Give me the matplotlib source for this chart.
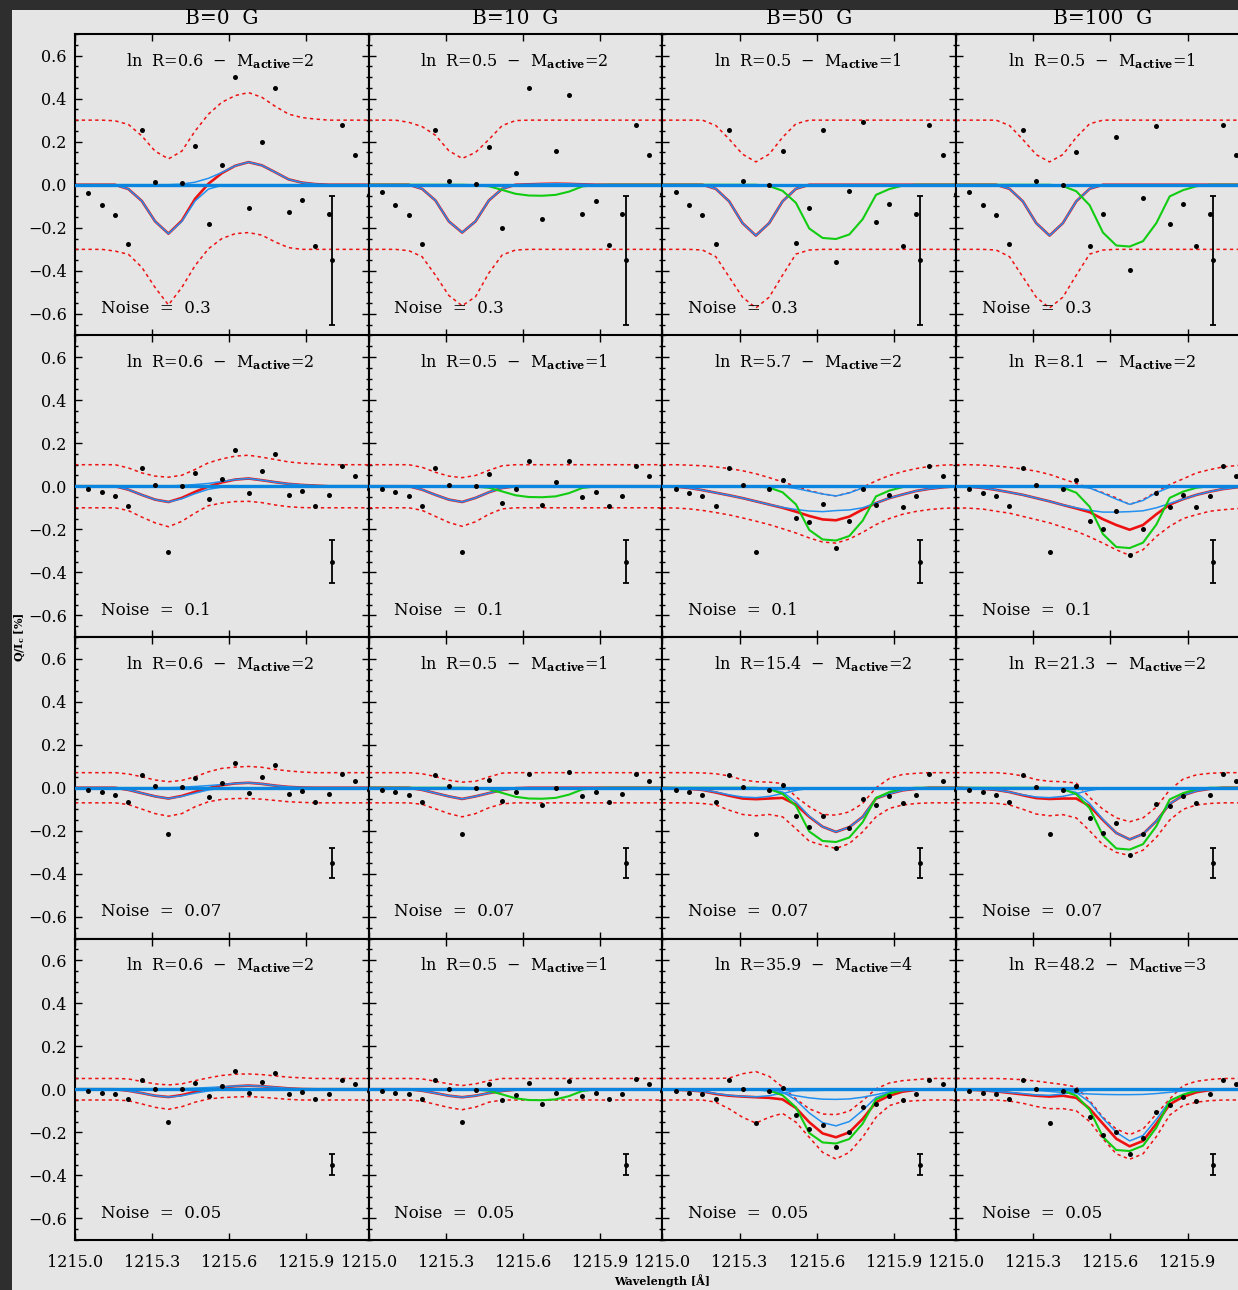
import numpy as np
import matplotlib
matplotlib.use("Agg")
import matplotlib.pyplot as plt
from matplotlib.patches import Rectangle
from matplotlib.ticker import FixedLocator, MultipleLocator, FuncFormatter

plt.rcParams['font.family'] = ['DejaVu Serif']
plt.rcParams['mathtext.fontset'] = 'dejavuserif'

nan = np.nan

# wavelength grid (23 samples), dots are drawn for samples 1..22
wave = np.linspace(1215.0, 1216.142, 23)

fields = ["B=0  G", "B=10  G", "B=50  G", "B=100  G"]
noise = [0.3, 0.1, 0.07, 0.05]
noise_txt = ["0.3", "0.1", "0.07", "0.05"]
ln_r = [["0.6", "0.5", "0.5", "0.5"],
        ["0.6", "0.5", "5.7", "8.1"],
        ["0.6", "0.5", "15.4", "21.3"],
        ["0.6", "0.5", "35.9", "48.2"]]
m_active = [[2, 2, 1, 1], [2, 1, 2, 2], [2, 1, 2, 2], [2, 1, 4, 3]]

# true signal per field
green_b0 = [0.0] * 23
green_b10 = [0, 0, 0, 0, 0, 0, 0, 0, -0.002, -0.007, -0.024, -0.042, -0.05, -0.051, -0.047, -0.032, -0.008, -0.001, 0, 0, 0, 0, 0]
green_b50 = [0, 0, 0, 0, 0, 0, 0, 0, -0.006, -0.028, -0.084, -0.203, -0.247, -0.252, -0.231, -0.16, -0.047, -0.02, -0.004, 0, 0, 0, 0]
green_b100 = [0, 0, 0, 0, 0, 0, 0, 0, -0.006, -0.03, -0.095, -0.222, -0.282, -0.287, -0.262, -0.178, -0.054, -0.025, -0.007, 0, 0, 0, 0]
green = [green_b0, green_b10, green_b50, green_b100]

# ---- row 1, noise 0.3
dots_r1 = [
    [-0.036, -0.094, -0.14, -0.277, 0.253, 0.0125, nan, 0.006, 0.18, -0.184, 0.094, 0.50, -0.109, 0.20, 0.45, -0.128, -0.07, -0.283, -0.134, 0.277, 0.1375, -0.048],
    [-0.034, -0.092, -0.139, -0.273, 0.255, 0.016, nan, 0.003, 0.177, -0.203, 0.053, 0.45, -0.161, 0.155, 0.419, -0.136, -0.075, -0.281, -0.134, 0.278, 0.1375, -0.045],
    [-0.034, -0.092, -0.139, -0.273, 0.255, 0.016, nan, -0.003, 0.155, -0.27, -0.108, 0.253, -0.361, -0.031, 0.292, -0.173, -0.089, -0.286, -0.136, 0.278, 0.1375, -0.045],
    [-0.034, -0.092, -0.139, -0.273, 0.255, 0.016, nan, -0.003, 0.15, -0.283, -0.134, 0.22, -0.394, -0.061, 0.272, -0.18, -0.09, -0.286, -0.134, 0.278, 0.1375, -0.045]]
upper_r1 = [
    [0.30, 0.30, 0.30, 0.297, 0.28, 0.227, 0.156, 0.12, 0.156, 0.25, 0.328, 0.383, 0.414, 0.428, 0.406, 0.364, 0.328, 0.312, 0.305, 0.30, 0.30, 0.30, 0.30],
    [0.30, 0.30, 0.30, 0.29, 0.27, 0.23, 0.158, 0.122, 0.15, 0.21, 0.275, 0.298] + [0.30] * 11,
    [0.30, 0.30, 0.30, 0.30, 0.275, 0.212, 0.142, 0.106, 0.142, 0.22, 0.283, 0.30] + [0.30] * 11,
    [0.30, 0.30, 0.30, 0.30, 0.275, 0.21, 0.14, 0.106, 0.14, 0.22, 0.283, 0.30] + [0.30] * 11]
lower_r1 = [
    [-0.30, -0.30, -0.30, -0.308, -0.323, -0.383, -0.477, -0.558, -0.477, -0.375, -0.297, -0.25, -0.227, -0.222, -0.234, -0.266, -0.292, -0.30, -0.30, -0.30, -0.30, -0.30, -0.30],
    [-0.30, -0.30, -0.30, -0.306, -0.334, -0.42, -0.514, -0.562, -0.52, -0.41, -0.326, -0.303] + [-0.30] * 11,
    [-0.30, -0.30, -0.30, -0.303, -0.334, -0.428, -0.522, -0.572, -0.522, -0.42, -0.322, -0.303] + [-0.30] * 11,
    [-0.30, -0.30, -0.30, -0.303, -0.334, -0.428, -0.522, -0.572, -0.522, -0.42, -0.322, -0.303] + [-0.30] * 11]
fit_r1 = [
    [0, 0, 0, 0, -0.02, -0.075, -0.17, -0.227, -0.167, -0.065, 0.005, 0.054, 0.088, 0.105, 0.09, 0.058, 0.025, 0.01, 0.003, 0, 0, 0, 0],
    [0, 0, 0, 0, -0.019, -0.073, -0.17, -0.222, -0.17, -0.073, -0.019, 0, 0.002, 0.004, 0.005, 0.004, 0.002, 0, 0, 0, 0, 0, 0],
    [0, 0, 0, 0, -0.019, -0.077, -0.178, -0.236, -0.178, -0.077, -0.019] + [0] * 12,
    [0, 0, 0, 0, -0.019, -0.077, -0.178, -0.236, -0.178, -0.077, -0.019] + [0] * 12]
comps_r1 = [
    [[0, 0, 0, 0, -0.02, -0.075, -0.17, -0.227, -0.17, -0.075, -0.02, -0.003] + [0] * 11,
     [0, 0, 0, 0, 0, 0, 0, 0, 0.003, 0.012, 0.03, 0.057, 0.088, 0.105, 0.09, 0.058, 0.025, 0.01, 0.003, 0, 0, 0, 0]],
    [[0, 0, 0, 0, -0.019, -0.073, -0.17, -0.222, -0.17, -0.073, -0.019] + [0] * 12,
     [0] * 12 + [0.002, 0.004, 0.005, 0.004, 0.002] + [0] * 6],
    None, None]

# ---- row 2, noise 0.1
dots_r2 = [
    [-0.011, -0.029, -0.045, -0.09, 0.085, 0.008, -0.305, 0.002, 0.062, -0.059, 0.034, 0.169, -0.033, 0.07, 0.152, -0.04, -0.02, -0.091, -0.042, 0.093, 0.047, -0.014],
    [-0.011, -0.029, -0.045, -0.09, 0.085, 0.008, -0.305, 0.002, 0.056, -0.078, -0.011, 0.115, -0.087, 0.02, 0.116, -0.051, -0.026, -0.093, -0.043, 0.093, 0.047, -0.014],
    [-0.012, -0.031, -0.045, -0.09, 0.085, 0.008, -0.307, -0.011, 0.031, -0.147, -0.167, -0.081, -0.287, -0.163, -0.011, -0.088, -0.04, -0.096, -0.045, 0.093, 0.047, -0.012],
    [-0.012, -0.031, -0.045, -0.09, 0.085, 0.008, -0.307, -0.011, 0.031, -0.16, -0.197, -0.113, -0.321, -0.197, -0.03, -0.095, -0.042, -0.096, -0.045, 0.093, 0.047, -0.012]]
upper_r2 = [
    [0.1, 0.1, 0.1, 0.1, 0.085, 0.062, 0.047, 0.042, 0.051, 0.078, 0.109, 0.127, 0.14, 0.144, 0.135, 0.124, 0.113, 0.107, 0.104, 0.1, 0.1, 0.1, 0.1],
    [0.1, 0.1, 0.1, 0.1, 0.088, 0.065, 0.047, 0.04, 0.05, 0.074, 0.095] + [0.1] * 12,
    [0.1, 0.1, 0.098, 0.095, 0.09, 0.082, 0.072, 0.058, 0.04, 0.02, 0.0, -0.02, -0.035, -0.045, -0.03, -0.005, 0.025, 0.05, 0.068, 0.082, 0.092, 0.098, 0.1],
    [0.1, 0.1, 0.098, 0.094, 0.088, 0.08, 0.07, 0.055, 0.034, 0.013, -0.008, -0.03, -0.054, -0.085, -0.062, -0.026, 0.008, 0.034, 0.062, 0.077, 0.09, 0.096, 0.1]]
lower_r2 = [
    [-0.1, -0.1, -0.1, -0.1, -0.113, -0.143, -0.17, -0.188, -0.163, -0.124, -0.09, -0.078, -0.071, -0.07, -0.076, -0.087, -0.095, -0.099, -0.1, -0.1, -0.1, -0.1, -0.1],
    [-0.1, -0.1, -0.1, -0.1, -0.112, -0.14, -0.168, -0.186, -0.165, -0.13, -0.105] + [-0.1] * 12,
    [-0.1, -0.101, -0.105, -0.112, -0.122, -0.133, -0.147, -0.162, -0.178, -0.197, -0.217, -0.24, -0.259, -0.264, -0.245, -0.214, -0.178, -0.15, -0.13, -0.117, -0.108, -0.103, -0.1],
    [-0.1, -0.102, -0.106, -0.116, -0.125, -0.14, -0.155, -0.17, -0.19, -0.209, -0.235, -0.264, -0.295, -0.321, -0.295, -0.233, -0.186, -0.15, -0.132, -0.116, -0.109, -0.104, -0.1]]
fit_r2 = [
    [0, 0, 0, 0, -0.016, -0.04, -0.062, -0.073, -0.054, -0.026, -0.001, 0.018, 0.031, 0.036, 0.028, 0.019, 0.011, 0.006, 0.003, 0, 0, 0, 0],
    [0, 0, 0, 0, -0.016, -0.04, -0.062, -0.073, -0.054, -0.028, -0.008] + [0] * 12,
    [0, -0.002, -0.008, -0.018, -0.03, -0.042, -0.055, -0.07, -0.085, -0.1, -0.118, -0.138, -0.154, -0.158, -0.141, -0.108, -0.078, -0.055, -0.038, -0.022, -0.012, -0.005, 0],
    [0, -0.002, -0.008, -0.017, -0.028, -0.04, -0.055, -0.07, -0.087, -0.103, -0.12, -0.153, -0.18, -0.202, -0.18, -0.13, -0.085, -0.06, -0.04, -0.025, -0.013, -0.005, 0]]
comps_r2 = [
    [[0, 0, 0, 0, -0.016, -0.04, -0.062, -0.073, -0.058, -0.034, -0.014, -0.004] + [0] * 11,
     [0, 0, 0, 0, 0, 0, 0, 0.001, 0.004, 0.008, 0.013, 0.022, 0.031, 0.036, 0.028, 0.019, 0.011, 0.006, 0.003, 0, 0, 0, 0]],
    None,
    [[0, -0.002, -0.008, -0.018, -0.03, -0.042, -0.055, -0.07, -0.085, -0.098, -0.108, -0.115, -0.118, -0.113, -0.11, -0.1, -0.078, -0.055, -0.038, -0.022, -0.012, -0.005, 0],
     [0] * 9 + [-0.002, -0.01, -0.023, -0.036, -0.045, -0.031, -0.008] + [0] * 7],
    [[0, -0.002, -0.008, -0.017, -0.028, -0.04, -0.055, -0.07, -0.087, -0.1, -0.112, -0.12, -0.12, -0.118, -0.114, -0.1, -0.08, -0.06, -0.04, -0.025, -0.013, -0.005, 0],
     [0] * 9 + [-0.003, -0.008, -0.033, -0.06, -0.084, -0.066, -0.03, -0.005] + [0] * 6]]

# ---- row 3, noise 0.07
dots_r3 = [
    [-0.009, -0.022, -0.033, -0.064, 0.059, 0.006, -0.214, 0.002, 0.043, -0.042, 0.023, 0.116, -0.025, 0.048, 0.105, -0.029, -0.016, -0.065, -0.031, 0.065, 0.033, -0.011],
    [-0.009, -0.022, -0.033, -0.064, 0.059, 0.006, -0.214, 0.0, 0.037, -0.06, -0.02, 0.064, -0.078, -0.002, 0.071, -0.039, -0.02, -0.067, -0.031, 0.065, 0.033, -0.011],
    [-0.009, -0.022, -0.033, -0.064, 0.059, 0.003, -0.216, -0.011, 0.012, -0.13, -0.18, -0.132, -0.278, -0.186, -0.053, -0.078, -0.037, -0.07, -0.033, 0.065, 0.031, -0.011],
    [-0.009, -0.022, -0.033, -0.064, 0.059, 0.003, -0.216, -0.011, 0.009, -0.14, -0.208, -0.166, -0.31, -0.217, -0.076, -0.084, -0.04, -0.071, -0.034, 0.064, 0.031, -0.011]]
upper_r3 = [
    [0.07, 0.07, 0.07, 0.07, 0.064, 0.051, 0.036, 0.028, 0.034, 0.051, 0.074, 0.09, 0.096, 0.099, 0.095, 0.085, 0.078, 0.073, 0.07, 0.07, 0.07, 0.07, 0.07],
    [0.07, 0.07, 0.07, 0.07, 0.065, 0.052, 0.035, 0.026, 0.03, 0.05, 0.068] + [0.07] * 12,
    [0.07, 0.07, 0.07, 0.069, 0.065, 0.055, 0.037, 0.028, 0.026, 0.02, -0.042, -0.088, -0.124, -0.127, -0.112, -0.073, 0.0, 0.043, 0.062, 0.067, 0.07, 0.07, 0.07],
    [0.07, 0.07, 0.07, 0.07, 0.065, 0.055, 0.038, 0.03, 0.028, 0.022, -0.045, -0.1, -0.14, -0.158, -0.14, -0.09, -0.01, 0.04, 0.06, 0.067, 0.07, 0.07, 0.07]]
lower_r3 = [
    [-0.07, -0.07, -0.07, -0.07, -0.078, -0.099, -0.12, -0.132, -0.12, -0.088, -0.065, -0.054, -0.05, -0.05, -0.053, -0.059, -0.065, -0.068, -0.07, -0.07, -0.07, -0.07, -0.07],
    [-0.07, -0.07, -0.07, -0.07, -0.077, -0.098, -0.12, -0.135, -0.12, -0.093, -0.075] + [-0.07] * 12,
    [-0.07, -0.07, -0.07, -0.073, -0.08, -0.104, -0.124, -0.13, -0.124, -0.135, -0.19, -0.248, -0.267, -0.282, -0.259, -0.205, -0.135, -0.096, -0.08, -0.073, -0.07, -0.07, -0.07],
    [-0.07, -0.07, -0.07, -0.072, -0.08, -0.1, -0.122, -0.13, -0.125, -0.14, -0.2, -0.265, -0.3, -0.315, -0.29, -0.23, -0.15, -0.1, -0.08, -0.073, -0.07, -0.07, -0.07]]
fit_r3 = [
    [0, 0, 0, 0, -0.01, -0.025, -0.04, -0.05, -0.038, -0.019, -0.002, 0.012, 0.02, 0.023, 0.018, 0.01, 0.004, 0.001, 0, 0, 0, 0, 0],
    [0, 0, 0, 0, -0.01, -0.025, -0.04, -0.052, -0.04, -0.025, -0.01, -0.002] + [0] * 11,
    [0, -0.002, -0.005, -0.01, -0.022, -0.037, -0.05, -0.053, -0.05, -0.047, -0.078, -0.135, -0.181, -0.205, -0.183, -0.135, -0.05, -0.028, -0.012, -0.005, 0, 0, 0],
    [0, -0.002, -0.005, -0.01, -0.02, -0.035, -0.048, -0.052, -0.05, -0.05, -0.085, -0.15, -0.21, -0.24, -0.215, -0.155, -0.075, -0.035, -0.015, -0.005, 0, 0, 0]]
comps_r3 = [
    [[0, 0, 0, 0, -0.01, -0.025, -0.04, -0.05, -0.04, -0.025, -0.01, -0.002] + [0] * 11,
     [0, 0, 0, 0, 0, 0, 0, 0, 0.002, 0.006, 0.01, 0.015, 0.02, 0.023, 0.018, 0.01, 0.004, 0.001, 0, 0, 0, 0, 0]],
    None,
    [[0, -0.002, -0.005, -0.01, -0.02, -0.033, -0.043, -0.046, -0.04, -0.027, -0.012, -0.003] + [0] * 11,
     [0, 0, 0, 0, 0, 0, 0, 0, -0.008, -0.02, -0.066, -0.132, -0.181, -0.205, -0.183, -0.135, -0.05, -0.028, -0.012, -0.005, 0, 0, 0]],
    [[0, -0.002, -0.005, -0.01, -0.02, -0.033, -0.043, -0.046, -0.04, -0.027, -0.012, -0.003] + [0] * 11,
     [0, 0, 0, 0, 0, 0, 0, 0, -0.009, -0.022, -0.073, -0.147, -0.21, -0.24, -0.215, -0.155, -0.075, -0.035, -0.015, -0.005, 0, 0, 0]]]

# ---- row 4, noise 0.05
dots_r4 = [
    [-0.008, -0.016, -0.023, -0.045, 0.042, 0.003, -0.153, 0.0, 0.029, -0.031, 0.017, 0.084, -0.017, 0.034, 0.076, -0.022, -0.011, -0.047, -0.022, 0.045, 0.023, -0.006],
    [-0.008, -0.016, -0.023, -0.045, 0.042, 0.003, -0.153, -0.003, 0.025, -0.048, -0.026, 0.031, -0.07, -0.016, 0.04, -0.031, -0.016, -0.047, -0.022, 0.047, 0.023, -0.006],
    [-0.006, -0.016, -0.023, -0.045, 0.042, 0.0, -0.155, -0.007, 0.005, -0.118, -0.186, -0.166, -0.27, -0.198, -0.084, -0.068, -0.033, -0.051, -0.023, 0.045, 0.023, -0.003],
    [-0.006, -0.016, -0.023, -0.045, 0.042, 0.002, -0.155, -0.009, -0.002, -0.13, -0.214, -0.198, -0.302, -0.228, -0.105, -0.074, -0.037, -0.053, -0.023, 0.045, 0.023, -0.003]]
upper_r4 = [
    [0.05, 0.05, 0.05, 0.05, 0.048, 0.036, 0.025, 0.02, 0.025, 0.04, 0.053, 0.064, 0.07, 0.071, 0.068, 0.062, 0.056, 0.053, 0.05, 0.05, 0.05, 0.05, 0.05],
    [0.05, 0.05, 0.05, 0.05, 0.048, 0.037, 0.025, 0.017, 0.025, 0.04, 0.05] + [0.05] * 12,
    [0.05, 0.05, 0.05, 0.05, 0.05, 0.052, 0.072, 0.082, 0.06, 0.01, -0.045, -0.091, -0.115, -0.118, -0.102, -0.053, 0.002, 0.029, 0.04, 0.045, 0.05, 0.05, 0.05],
    [0.05, 0.05, 0.05, 0.05, 0.048, 0.044, 0.038, 0.03, 0.022, 0.01, -0.053, -0.13, -0.185, -0.211, -0.185, -0.115, -0.045, 0.017, 0.037, 0.045, 0.05, 0.05, 0.05]]
lower_r4 = [
    [-0.05, -0.05, -0.05, -0.05, -0.053, -0.068, -0.084, -0.093, -0.081, -0.06, -0.045, -0.039, -0.036, -0.034, -0.037, -0.042, -0.047, -0.05, -0.05, -0.05, -0.05, -0.05, -0.05],
    [-0.05, -0.05, -0.05, -0.05, -0.055, -0.07, -0.085, -0.095, -0.083, -0.06, -0.05] + [-0.05] * 12,
    [-0.05, -0.05, -0.05, -0.05, -0.06, -0.091, -0.13, -0.157, -0.13, -0.112, -0.153, -0.223, -0.293, -0.324, -0.293, -0.223, -0.13, -0.076, -0.057, -0.053, -0.05, -0.05, -0.05],
    [-0.05, -0.05, -0.05, -0.05, -0.055, -0.065, -0.08, -0.09, -0.09, -0.1, -0.15, -0.23, -0.3, -0.325, -0.3, -0.22, -0.12, -0.075, -0.06, -0.053, -0.05, -0.05, -0.05]]
fit_r4 = [
    [0, 0, 0, 0, -0.007, -0.018, -0.03, -0.036, -0.027, -0.012, 0.0, 0.008, 0.014, 0.017, 0.014, 0.009, 0.004, 0.001, 0, 0, 0, 0, 0],
    [0, 0, 0, 0, -0.007, -0.018, -0.03, -0.037, -0.03, -0.018, -0.008, -0.002] + [0] * 11,
    [0, -0.002, -0.005, -0.01, -0.022, -0.03, -0.034, -0.037, -0.04, -0.047, -0.087, -0.153, -0.205, -0.223, -0.2, -0.138, -0.06, -0.03, -0.011, -0.003, 0, 0, 0],
    [0, -0.002, -0.005, -0.01, -0.017, -0.024, -0.03, -0.034, -0.03, -0.04, -0.09, -0.16, -0.23, -0.265, -0.24, -0.16, -0.07, -0.035, -0.014, -0.004, 0, 0, 0]]
comps_r4 = [
    [[0, 0, 0, 0, -0.007, -0.018, -0.03, -0.036, -0.03, -0.018, -0.008, -0.002] + [0] * 11,
     [0, 0, 0, 0, 0, 0, 0, 0, 0.002, 0.005, 0.008, 0.011, 0.015, 0.017, 0.014, 0.009, 0.004, 0.001, 0, 0, 0, 0, 0]],
    None,
    [[0, 0, 0, 0, 0, 0, -0.001, -0.003, -0.008, -0.018, -0.03, -0.04, -0.046, -0.047, -0.045, -0.037, -0.025, -0.012, -0.004, 0, 0, 0, 0],
     [0, 0, 0, 0, 0, 0, 0, 0, -0.002, -0.012, -0.05, -0.11, -0.155, -0.17, -0.15, -0.098, -0.038, -0.016, -0.006, -0.002, 0, 0, 0],
     [0, -0.002, -0.005, -0.01, -0.02, -0.028, -0.033, -0.035, -0.03, -0.018, -0.007, -0.002] + [0] * 11,
     [0] * 8 + [-0.001, -0.003, -0.005, -0.006, -0.005, -0.003, -0.001] + [0] * 8],
    [[0, 0, 0, 0, 0, -0.002, -0.005, -0.01, -0.015, -0.018, -0.022, -0.024, -0.025, -0.025, -0.024, -0.02, -0.014, -0.008, -0.004, -0.001, 0, 0, 0],
     [0, 0, 0, 0, 0, 0, 0, 0, -0.002, -0.015, -0.06, -0.135, -0.2, -0.24, -0.215, -0.14, -0.055, -0.025, -0.008, -0.002, 0, 0, 0],
     [0, -0.002, -0.005, -0.01, -0.015, -0.02, -0.026, -0.028, -0.022, -0.012, -0.004] + [0] * 12]]

dots = [dots_r1, dots_r2, dots_r3, dots_r4]
upper = [upper_r1, upper_r2, upper_r3, upper_r4]
lower = [lower_r1, lower_r2, lower_r3, lower_r4]
fits = [fit_r1, fit_r2, fit_r3, fit_r4]
comps = [comps_r1, comps_r2, comps_r3, comps_r4]

err_x = 1216.0
err_y = -0.35

RED = '#ee1111'
GREEN = '#11cc11'
LBLUE = '#2290f0'
ZBLUE = '#0a86e0'
BG = '#e5e5e5'

W, H = 1238, 1290
fig = plt.figure(figsize=(W / 100, H / 100), dpi=100, facecolor='#2e2e2e')
fig.add_artist(Rectangle((12 / W, 0), 1, 1 - 10 / H, transform=fig.transFigure,
                         facecolor=BG, edgecolor='none', zorder=-5))

x0, y0 = 75, 34
pw, ph = 293.7, 301.5

minus = FuncFormatter(lambda v, p: ("%.1f" % v).replace("-", "\u2212"))

for r in range(4):
    for c in range(4):
        ax = fig.add_axes([(x0 + c * pw) / W, 1 - (y0 + (r + 1) * ph) / H, pw / W, ph / H])
        ax.set_facecolor(BG)
        ax.set_xlim(wave[0], wave[-1])
        ax.set_ylim(-0.7, 0.7)

        ax.plot(wave, upper[r][c], color=RED, lw=1.1, ls=(0, (2.2, 2.2)))
        ax.plot(wave, lower[r][c], color=RED, lw=1.1, ls=(0, (2.2, 2.2)))
        ax.plot(wave, fits[r][c], color=RED, lw=1.9)
        cl = comps[r][c] if comps[r][c] is not None else [fits[r][c]]
        for comp in cl:
            ax.plot(wave, comp, color=LBLUE, lw=1.1)
        ax.plot(wave, green[c], color=GREEN, lw=1.5)
        ax.axhline(0, color=ZBLUE, lw=2.4, zorder=3)
        ax.plot(wave[1:], dots[r][c], 'o', color='k', ms=3.6, mec='none',
                clip_on=False, zorder=5)
        ax.errorbar(err_x, err_y, yerr=noise[r], fmt='o', color='k', ms=2.5,
                    elinewidth=1.3, capsize=2.5, capthick=1.3, zorder=5)

        ax.text(1215.2, 0.575, r"ln  R=%s  $-$  M$_{\mathbf{active}}$=%d" % (ln_r[r][c], m_active[r][c]),
                fontsize=11.5, va='center', ha='left')
        ax.text(1215.1, -0.575, "Noise  =  " + noise_txt[r], fontsize=12, va='center', ha='left')

        ax.xaxis.set_major_locator(FixedLocator([1215.0, 1215.3, 1215.6, 1215.9]))
        ax.yaxis.set_major_locator(MultipleLocator(0.2))
        ax.yaxis.set_minor_locator(MultipleLocator(0.05))
        ax.tick_params(which='both', direction='in', top=True, right=True, width=1.0, color='k')
        ax.tick_params(which='major', length=5)
        ax.tick_params(which='minor', length=2.5)
        ax.tick_params(axis='y', labelsize=11.5, pad=6)
        ax.tick_params(axis='x', labelsize=11.5, pad=10)
        ax.yaxis.set_major_formatter(minus)
        ax.xaxis.set_major_formatter(FuncFormatter(lambda v, p: "%.1f" % v))
        if c > 0:
            ax.tick_params(axis='y', labelleft=False)
        if r < 3:
            ax.tick_params(axis='x', labelbottom=False)
        for s in ax.spines.values():
            s.set_linewidth(1.5)

for c in range(4):
    fig.text((x0 + (c + 0.5) * pw) / W, 1 - 18 / H, fields[c], fontsize=14.5,
             ha='center', va='center')

fig.text(20 / W, 1 - 637 / H, r"Q/I$_\mathbf{c}$ [%]", rotation=90, fontsize=8,
         fontweight='bold', ha='center', va='center')
fig.text(662 / W, 1 - 1281 / H, "Wavelength [\u00c5]", fontsize=8,
         fontweight='bold', ha='center', va='center')

fig.savefig("out.png", dpi=100, facecolor=fig.get_facecolor())
